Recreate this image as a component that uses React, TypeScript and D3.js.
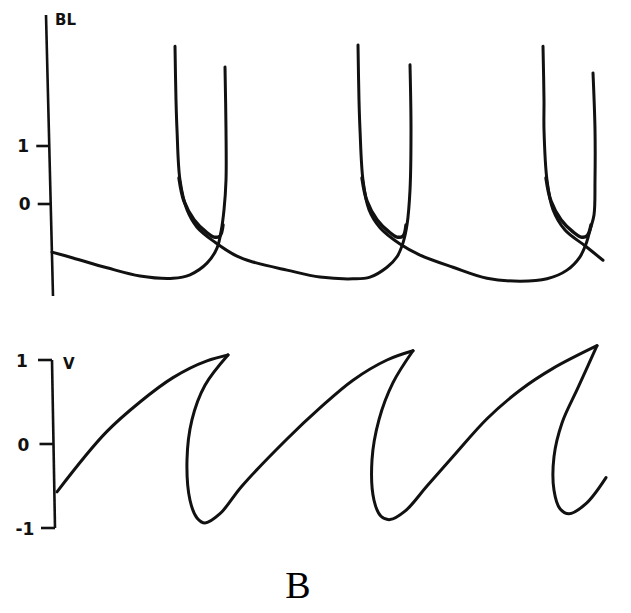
import React from "react";
import * as d3 from "d3";

// time axis (arbitrary units) shared by both panels
const timeDomain = [0, 56];

// BL panel ticks
const blTicks = [0, 1];
// V panel ticks
const vTicks = [-1, 0, 1];

// BL trajectories: [t, BL]
const blPieceA: [number, number][] = [
  [0, -0.83], [2.1, -0.93], [5.5, -1.1], [8.8, -1.24], [12.1, -1.28], [13.8, -1.22],
  [15.5, -1.02], [16.5, -0.76], [16.9, -0.48], [17.2, -0.1], [17.4, 0.41], [17.4, 1.28], [17.3, 2.36],
];
const blPieceB: [number, number][] = [
  [12.3, 2.72], [12.4, 1.79], [12.5, 1.28], [12.8, 0.41], [13.5, -0.1], [14.5, -0.4], [16.3, -0.66],
  [18.5, -0.9], [20.1, -1.0], [23.5, -1.14], [26.8, -1.26], [30.1, -1.29], [31.8, -1.26], [33.5, -1.09],
  [34.5, -0.91], [35.1, -0.67], [35.5, -0.36], [35.8, 0.24], [35.9, 1.28], [35.8, 2.4],
];
const blPieceC: [number, number][] = [
  [30.6, 2.74], [30.7, 1.79], [30.8, 1.28], [31.1, 0.41], [31.7, -0.1], [32.8, -0.41], [34.8, -0.69],
  [36.8, -0.88], [40.1, -1.09], [43.5, -1.28], [46.8, -1.33], [49.5, -1.29], [51.5, -1.14], [52.8, -0.91],
  [53.4, -0.69], [53.8, -0.45], [54.2, -0.19], [54.3, 0.41], [54.3, 1.28], [54.1, 2.26],
];
const blPieceD: [number, number][] = [
  [49.1, 2.72], [49.2, 1.79], [49.2, 1.28], [49.5, 0.41], [50.1, -0.1], [51.3, -0.45], [53.3, -0.72], [55.1, -0.97],
];
const blInner1: [number, number][] = [
  [12.7, 0.45], [13.2, 0.05], [14.2, -0.27], [15.4, -0.48], [16.2, -0.57], [16.8, -0.55], [17.1, -0.36],
];
const blInner2: [number, number][] = [
  [31.0, 0.45], [31.5, 0.05], [32.5, -0.27], [33.7, -0.48], [34.5, -0.57], [35.1, -0.55], [35.4, -0.36],
];
const blInner3: [number, number][] = [
  [49.4, 0.45], [49.9, 0.05], [50.9, -0.27], [52.1, -0.48], [52.9, -0.57], [53.5, -0.55], [53.9, -0.36],
];
const blSeries = [blPieceA, blPieceB, blPieceC, blPieceD];
const blInner = [blInner1, blInner2, blInner3];

// V trajectory, split at the peaks: [t, V]
const vRise1: [number, number][] = [
  [0.5, -0.57], [5.5, 0.15], [8.8, 0.5], [12.1, 0.79], [15.5, 0.99], [17.6, 1.06],
];
const vCycle2: [number, number][] = [
  [17.6, 1.06], [15.3, 0.7], [14.0, 0.29], [13.5, -0.19], [13.8, -0.67], [14.5, -0.88], [15.3, -0.94],
  [16.8, -0.83], [19.0, -0.5], [23.5, 0.06], [26.8, 0.43], [30.1, 0.76], [33.5, 1.0], [36.1, 1.11],
];
const vCycle3: [number, number][] = [
  [36.1, 1.11], [34.1, 0.73], [32.7, 0.29], [32.0, -0.19], [32.2, -0.67], [32.9, -0.86], [33.8, -0.9],
  [35.3, -0.8], [37.5, -0.5], [40.1, -0.15], [43.5, 0.3], [46.8, 0.64], [50.1, 0.9], [54.5, 1.17],
];
const vCycle4: [number, number][] = [
  [54.5, 1.17], [52.6, 0.67], [51.0, 0.25], [50.2, -0.15], [50.2, -0.55], [50.8, -0.77], [51.7, -0.83],
  [53.4, -0.71], [55.4, -0.4],
];
const vSeries = [vRise1, vCycle2, vCycle3, vCycle4];

const W = 631;
const H = 613;
const ink = "#111";

export default function App() {
  const x = d3.scaleLinear().domain(timeDomain).range([52, 612]);
  const yBL = d3.scaleLinear().domain([0, 1]).range([204, 146]);
  const yV = d3.scaleLinear().domain([-1, 1]).range([528, 360]);

  const lineBL = d3
    .line<[number, number]>()
    .x((d) => x(d[0]))
    .y((d) => yBL(d[1]))
    .curve(d3.curveCatmullRom.alpha(0.5));
  const lineV = d3
    .line<[number, number]>()
    .x((d) => x(d[0]))
    .y((d) => yV(d[1]))
    .curve(d3.curveCatmullRom.alpha(0.5));
  const lineVMono = d3
    .line<[number, number]>()
    .x((d) => x(d[0]))
    .y((d) => yV(d[1]))
    .curve(d3.curveMonotoneX);

  // hand-drawn axes lean slightly
  const blAxisTop = { x: 46, y: 15 };
  const blAxisBot = { x: 53, y: 296 };
  const blAxisX = (py: number) =>
    blAxisTop.x + ((py - blAxisTop.y) / (blAxisBot.y - blAxisTop.y)) * (blAxisBot.x - blAxisTop.x);
  const vAxisTop = { x: 52, y: yV(1) };
  const vAxisBot = { x: 55, y: yV(-1) };
  const vAxisX = (py: number) =>
    vAxisTop.x + ((py - vAxisTop.y) / (vAxisBot.y - vAxisTop.y)) * (vAxisBot.x - vAxisTop.x);

  const labelFont = "'DejaVu Sans', sans-serif";
  const sw = 3;

  return (
    <svg
      width={W}
      height={H}
      style={{ position: "absolute", left: 0, top: 0, background: "#fff" }}
    >
      {/* BL axis */}
      <line x1={blAxisTop.x} y1={blAxisTop.y} x2={blAxisBot.x} y2={blAxisBot.y} stroke={ink} strokeWidth={2.6} />
      {blTicks.map((t) => {
        const py = yBL(t);
        const ax = blAxisX(py);
        return (
          <g key={"bl" + t}>
            <line x1={ax - 13} y1={py} x2={ax} y2={py} stroke={ink} strokeWidth={2.6} />
            <text
              x={ax - 26}
              y={py + 6}
              textAnchor="middle"
              fontFamily={labelFont}
              fontWeight="bold"
              fontSize={17}
              fill={ink}
            >
              {t}
            </text>
          </g>
        );
      })}
      <text x={55} y={25} fontFamily={labelFont} fontWeight="bold" fontSize={15} fill={ink}>
        BL
      </text>

      {blSeries.map((s, i) => (
        <path key={"bls" + i} d={lineBL(s) || ""} fill="none" stroke={ink} strokeWidth={sw} strokeLinecap="round" strokeLinejoin="round" />
      ))}
      {blInner.map((s, i) => (
        <path key={"bli" + i} d={lineBL(s) || ""} fill="none" stroke={ink} strokeWidth={3.4} strokeLinecap="round" strokeLinejoin="round" />
      ))}

      {/* V axis */}
      <line x1={vAxisTop.x} y1={vAxisTop.y} x2={vAxisBot.x} y2={vAxisBot.y} stroke={ink} strokeWidth={2.6} />
      {vTicks.map((t) => {
        const py = yV(t);
        const ax = vAxisX(py);
        return (
          <g key={"v" + t}>
            <line x1={ax - 14} y1={py} x2={ax} y2={py} stroke={ink} strokeWidth={2.6} />
            <text
              x={ax - 30}
              y={py + 7}
              textAnchor="middle"
              fontFamily={labelFont}
              fontWeight="bold"
              fontSize={17}
              fill={ink}
            >
              {t}
            </text>
          </g>
        );
      })}
      <text x={63} y={369} fontFamily={labelFont} fontWeight="bold" fontSize={15} fill={ink}>
        V
      </text>

      {vSeries.map((s, i) => (
        <path
          key={"vs" + i}
          d={(i === 0 ? lineVMono(s) : lineV(s)) || ""}
          fill="none"
          stroke={ink}
          strokeWidth={sw}
          strokeLinecap="round"
          strokeLinejoin="round"
        />
      ))}

      <text
        x={298}
        y={598}
        textAnchor="middle"
        fontFamily="'Liberation Serif', 'Times New Roman', serif"
        fontSize={38}
        fill="#000"
      >
        B
      </text>
    </svg>
  );
}
